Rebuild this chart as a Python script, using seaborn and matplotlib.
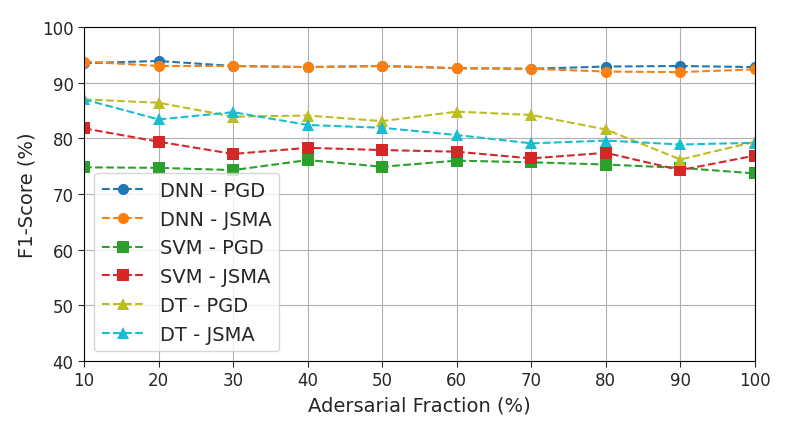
import pandas as pd
import matplotlib
matplotlib.use("Agg")
import matplotlib.pyplot as plt
import seaborn as sns

# Data
fractions = [10, 20, 30, 40, 50, 60, 70, 80, 90, 100]
dnn_pgd = [93.5, 93.9, 93.0, 92.8, 93.0, 92.6, 92.5, 92.9, 93.0, 92.8]
dnn_jsma = [93.8, 93.0, 93.0, 92.8, 93.0, 92.6, 92.5, 92.0, 91.9, 92.4]
svm_pgd = [74.8, 74.7, 74.3, 76.1, 74.9, 76.0, 75.7, 75.3, 74.7, 73.7]
svm_jsma = [81.8, 79.4, 77.2, 78.3, 77.9, 77.6, 76.4, 77.4, 74.3, 76.9]
dt_pgd = [87.0, 86.4, 83.9, 84.1, 83.1, 84.8, 84.2, 81.6, 76.2, 79.4]
dt_jsma = [87.0, 83.4, 84.7, 82.4, 81.9, 80.6, 79.1, 79.6, 78.9, 79.2]

series = [
    ("DNN - PGD", dnn_pgd, "o", "tab:blue"),
    ("DNN - JSMA", dnn_jsma, "o", "tab:orange"),
    ("SVM - PGD", svm_pgd, "s", "tab:green"),
    ("SVM - JSMA", svm_jsma, "s", "tab:red"),
    ("DT - PGD", dt_pgd, "^", "tab:olive"),
    ("DT - JSMA", dt_jsma, "^", "tab:cyan"),
]

sns.set_style("ticks")
plt.rcParams['font.family'] = ['DejaVu Sans']

fig = plt.figure(figsize=(7.93, 4.31), dpi=100)
ax = fig.add_axes([0.106, 0.160, 0.846, 0.775])

for name, vals, marker, color in series:
    df = pd.DataFrame({"x": fractions, "y": vals})
    sns.lineplot(data=df, x="x", y="y", ax=ax, label=name, marker=marker,
                 color=color, linestyle="--", markersize=8, markeredgewidth=0,
                 linewidth=1.5)

ax.set_xlim(10, 100)
ax.set_ylim(40, 100)
ax.set_xticks(fractions)
ax.set_yticks([40, 50, 60, 70, 80, 90, 100])
ax.grid(True, color="#b0b0b0", linewidth=0.8)
ax.tick_params(labelsize=12, length=4)
ax.set_xlabel("Adersarial Fraction (%)", fontsize=14)
ax.set_ylabel("F1-Score (%)", fontsize=14)
for s in ax.spines.values():
    s.set_color("black")
ax.legend(loc="lower left", fontsize=14, handlelength=2.2)

fig.savefig("out.png", dpi=100)
